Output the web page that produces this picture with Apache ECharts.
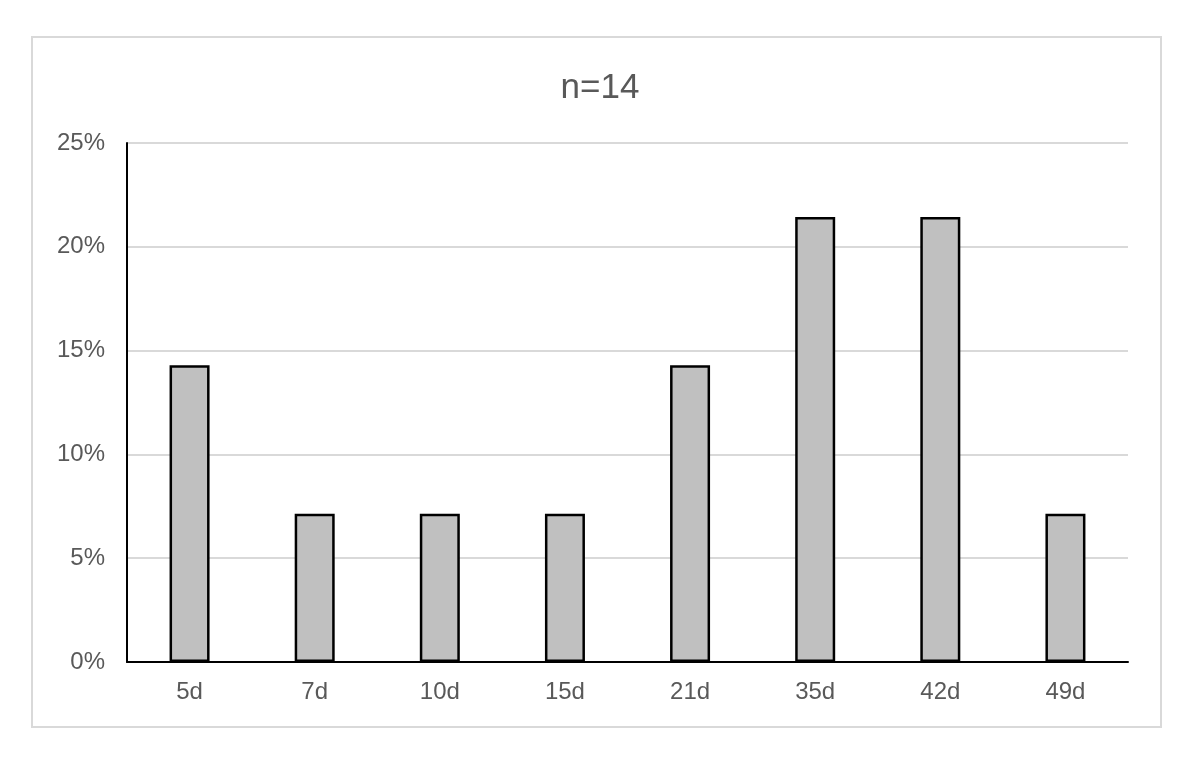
<!DOCTYPE html>
<html>
<head>
<meta charset="utf-8">
<script src="https://cdn.jsdelivr.net/npm/echarts@6/dist/echarts.min.js"></script>
<style>
html,body{margin:0;padding:0;background:#fff;}
#chart{width:1200px;height:767px;}
</style>
</head>
<body>
<div id="chart"></div>
<script>
const categories = ['5d','7d','10d','15d','21d','35d','42d','49d'];
const values = [14.29, 7.14, 7.14, 7.14, 14.29, 21.43, 21.43, 7.14];
const yTicks = [0, 5, 10, 15, 20, 25];
const titleText = 'n=14';

const chart = echarts.init(document.getElementById('chart'), null, {renderer:'canvas'});
const font = 'Liberation Sans, Arial, Helvetica, sans-serif';
chart.setOption({
  animation: false,
  backgroundColor: '#fff',
  graphic: [{
    type: 'rect',
    shape: {x: 32, y: 37, width: 1129, height: 690},
    style: {fill: 'none', stroke: '#d9d9d9', lineWidth: 2},
    silent: true, z: -1
  }],
  title: {
    text: titleText,
    left: 'center',
    top: 66,
    textStyle: {fontFamily: font, fontSize: 35, fontWeight: 'normal', color: '#595959'}
  },
  grid: {left: 127, right: 72, top: 143, bottom: 105, containLabel: false},
  xAxis: {
    type: 'category',
    data: categories,
    axisLine: {lineStyle: {color: '#000', width: 2}},
    axisTick: {show: false},
    axisLabel: {fontFamily: font, fontSize: 24, color: '#595959', margin: 18}
  },
  yAxis: {
    type: 'value',
    min: yTicks[0],
    max: yTicks[yTicks.length-1],
    interval: 5,
    axisLine: {show: true, lineStyle: {color: '#000', width: 2}},
    axisTick: {show: false},
    splitLine: {lineStyle: {color: '#d9d9d9', width: 2}},
    axisLabel: {fontFamily: font, fontSize: 24, color: '#595959', margin: 22, formatter: '{value}%'}
  },
  series: [{
    type: 'bar',
    data: values,
    barWidth: 40,
    itemStyle: {color: '#c0c0c0', borderColor: '#000', borderWidth: 2.5}
  }]
});
</script>
</body>
</html>
